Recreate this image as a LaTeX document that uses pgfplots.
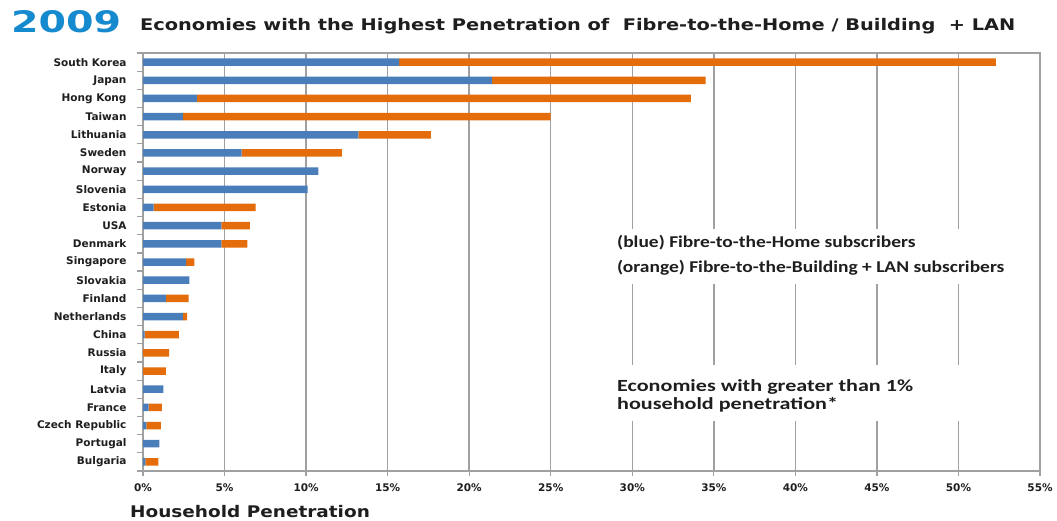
\documentclass[border=0pt]{standalone}
\usepackage{fontspec}
\setmainfont{DejaVu Sans}
\newfontfamily\calibri{Carlito}
\usepackage{pgfplots}
\usepackage{pgfplotstable}
\pgfplotsset{compat=1.18}
\definecolor{ftthblue}{RGB}{74,126,187}
\definecolor{ftthorange}{RGB}{228,108,10}
\definecolor{titleblue}{RGB}{22,138,206}
\definecolor{gridgray}{RGB}{160,160,160}
\definecolor{txt}{RGB}{30,30,30}

\pgfplotstableread{
idx blue orange
0  15.7  36.6
1  21.4  13.1
2  3.3   30.3
3  2.45  22.55
4  13.2  4.45
5  6.05  6.15
6  10.75 0
7  10.1  0
8  0.65  6.25
9  4.8   1.75
10 4.8   1.6
11 2.65  0.5
12 2.85  0
13 1.4   1.4
14 2.45  0.25
15 0.1   2.1
16 0     1.6
17 0     1.4
18 1.25  0
19 0.35  0.8
20 0.2   0.9
21 1.0   0
22 0.15  0.8
}\datatable

\begin{document}
\begin{tikzpicture}[x=1pt,y=1pt]
\path[use as bounding box] (0,0) rectangle (1057,520);
\begin{axis}[
  at={(143pt,49pt)}, anchor=south west,
  width=897pt, height=418pt, scale only axis,
  xbar stacked, bar width=7.5pt,
  xmin=0, xmax=55, ymin=-0.5, ymax=22.5, y dir=reverse,
  xtick={0,5,...,55},
  xticklabels={0\%,5\%,10\%,15\%,20\%,25\%,30\%,35\%,40\%,45\%,50\%,55\%},
  ytick={0,...,22},
  yticklabels={South Korea,Japan,Hong Kong,Taiwan,Lithuania,Sweden,Norway,Slovenia,Estonia,USA,Denmark,Singapore,Slovakia,Finland,Netherlands,China,Russia,Italy,Latvia,France,Czech Republic,Portugal,Bulgaria},
  minor ytick={-0.5,0.5,...,22.5},
  tick pos=left,
  tick align=outside,
  major tick length=5pt, minor tick length=6pt,
  every major y tick/.style={draw=none},
  every tick/.style={draw=gridgray, line width=1.2pt},
  xmajorgrids,
  major grid style={draw=gridgray, line width=1.4pt},
  axis line style={draw=gridgray, line width=1.4pt},
  y tick label style={font=\fontsize{10.5}{12}\selectfont\bfseries, text=txt, xshift=-8pt},
  x tick label style={font=\fontsize{10.5}{12}\selectfont\bfseries, text=txt, yshift=-4pt},
]
\addplot[fill=ftthblue, draw=none] table[x=blue, y=idx] {\datatable};
\addplot[fill=ftthorange, draw=none] table[x=orange, y=idx] {\datatable};
\end{axis}
% white boxes breaking the grid
\fill[white] (605,236) rectangle (1025,291);
\fill[white] (605,99) rectangle (1025,155);
\node[anchor=west, text=txt, font=\calibri\bfseries\fontsize{16.5}{18}\selectfont, inner sep=0pt] at (617,277) {\scalebox{1.18}[1]{(blue) Fibre-to-the-Home subscribers}};
\node[anchor=west, text=txt, font=\calibri\bfseries\fontsize{16.5}{18}\selectfont, inner sep=0pt] at (617,252) {\scalebox{1.18}[1]{(orange) Fibre-to-the-Building + LAN subscribers}};
\node[anchor=west, text=txt, font=\calibri\bfseries\fontsize{17}{19}\selectfont, inner sep=0pt] at (617,133.5) {\scalebox{1.30}[1]{Economies with greater than 1\%}};
\node[anchor=west, text=txt, font=\calibri\bfseries\fontsize{17}{19}\selectfont, inner sep=0pt] at (617,115) {\scalebox{1.30}[1]{household penetration*}};
% titles
\node[anchor=west, inner sep=0pt, text=titleblue] at (11,498) {\resizebox{110pt}{22pt}{\bfseries 2009}};
\node[anchor=west, inner sep=0pt, text=txt, font=\fontsize{16}{18}\selectfont\bfseries] at (140,494) {\scalebox{1.21}[1]{Economies with the Highest Penetration of\ \ Fibre-to-the-Home / Building\ \ + LAN}};
\node[anchor=west, inner sep=0pt, text=txt, font=\fontsize{16}{18}\selectfont\bfseries] at (130,8) {\scalebox{1.154}[1]{Household Penetration}};
\end{tikzpicture}
\end{document}
